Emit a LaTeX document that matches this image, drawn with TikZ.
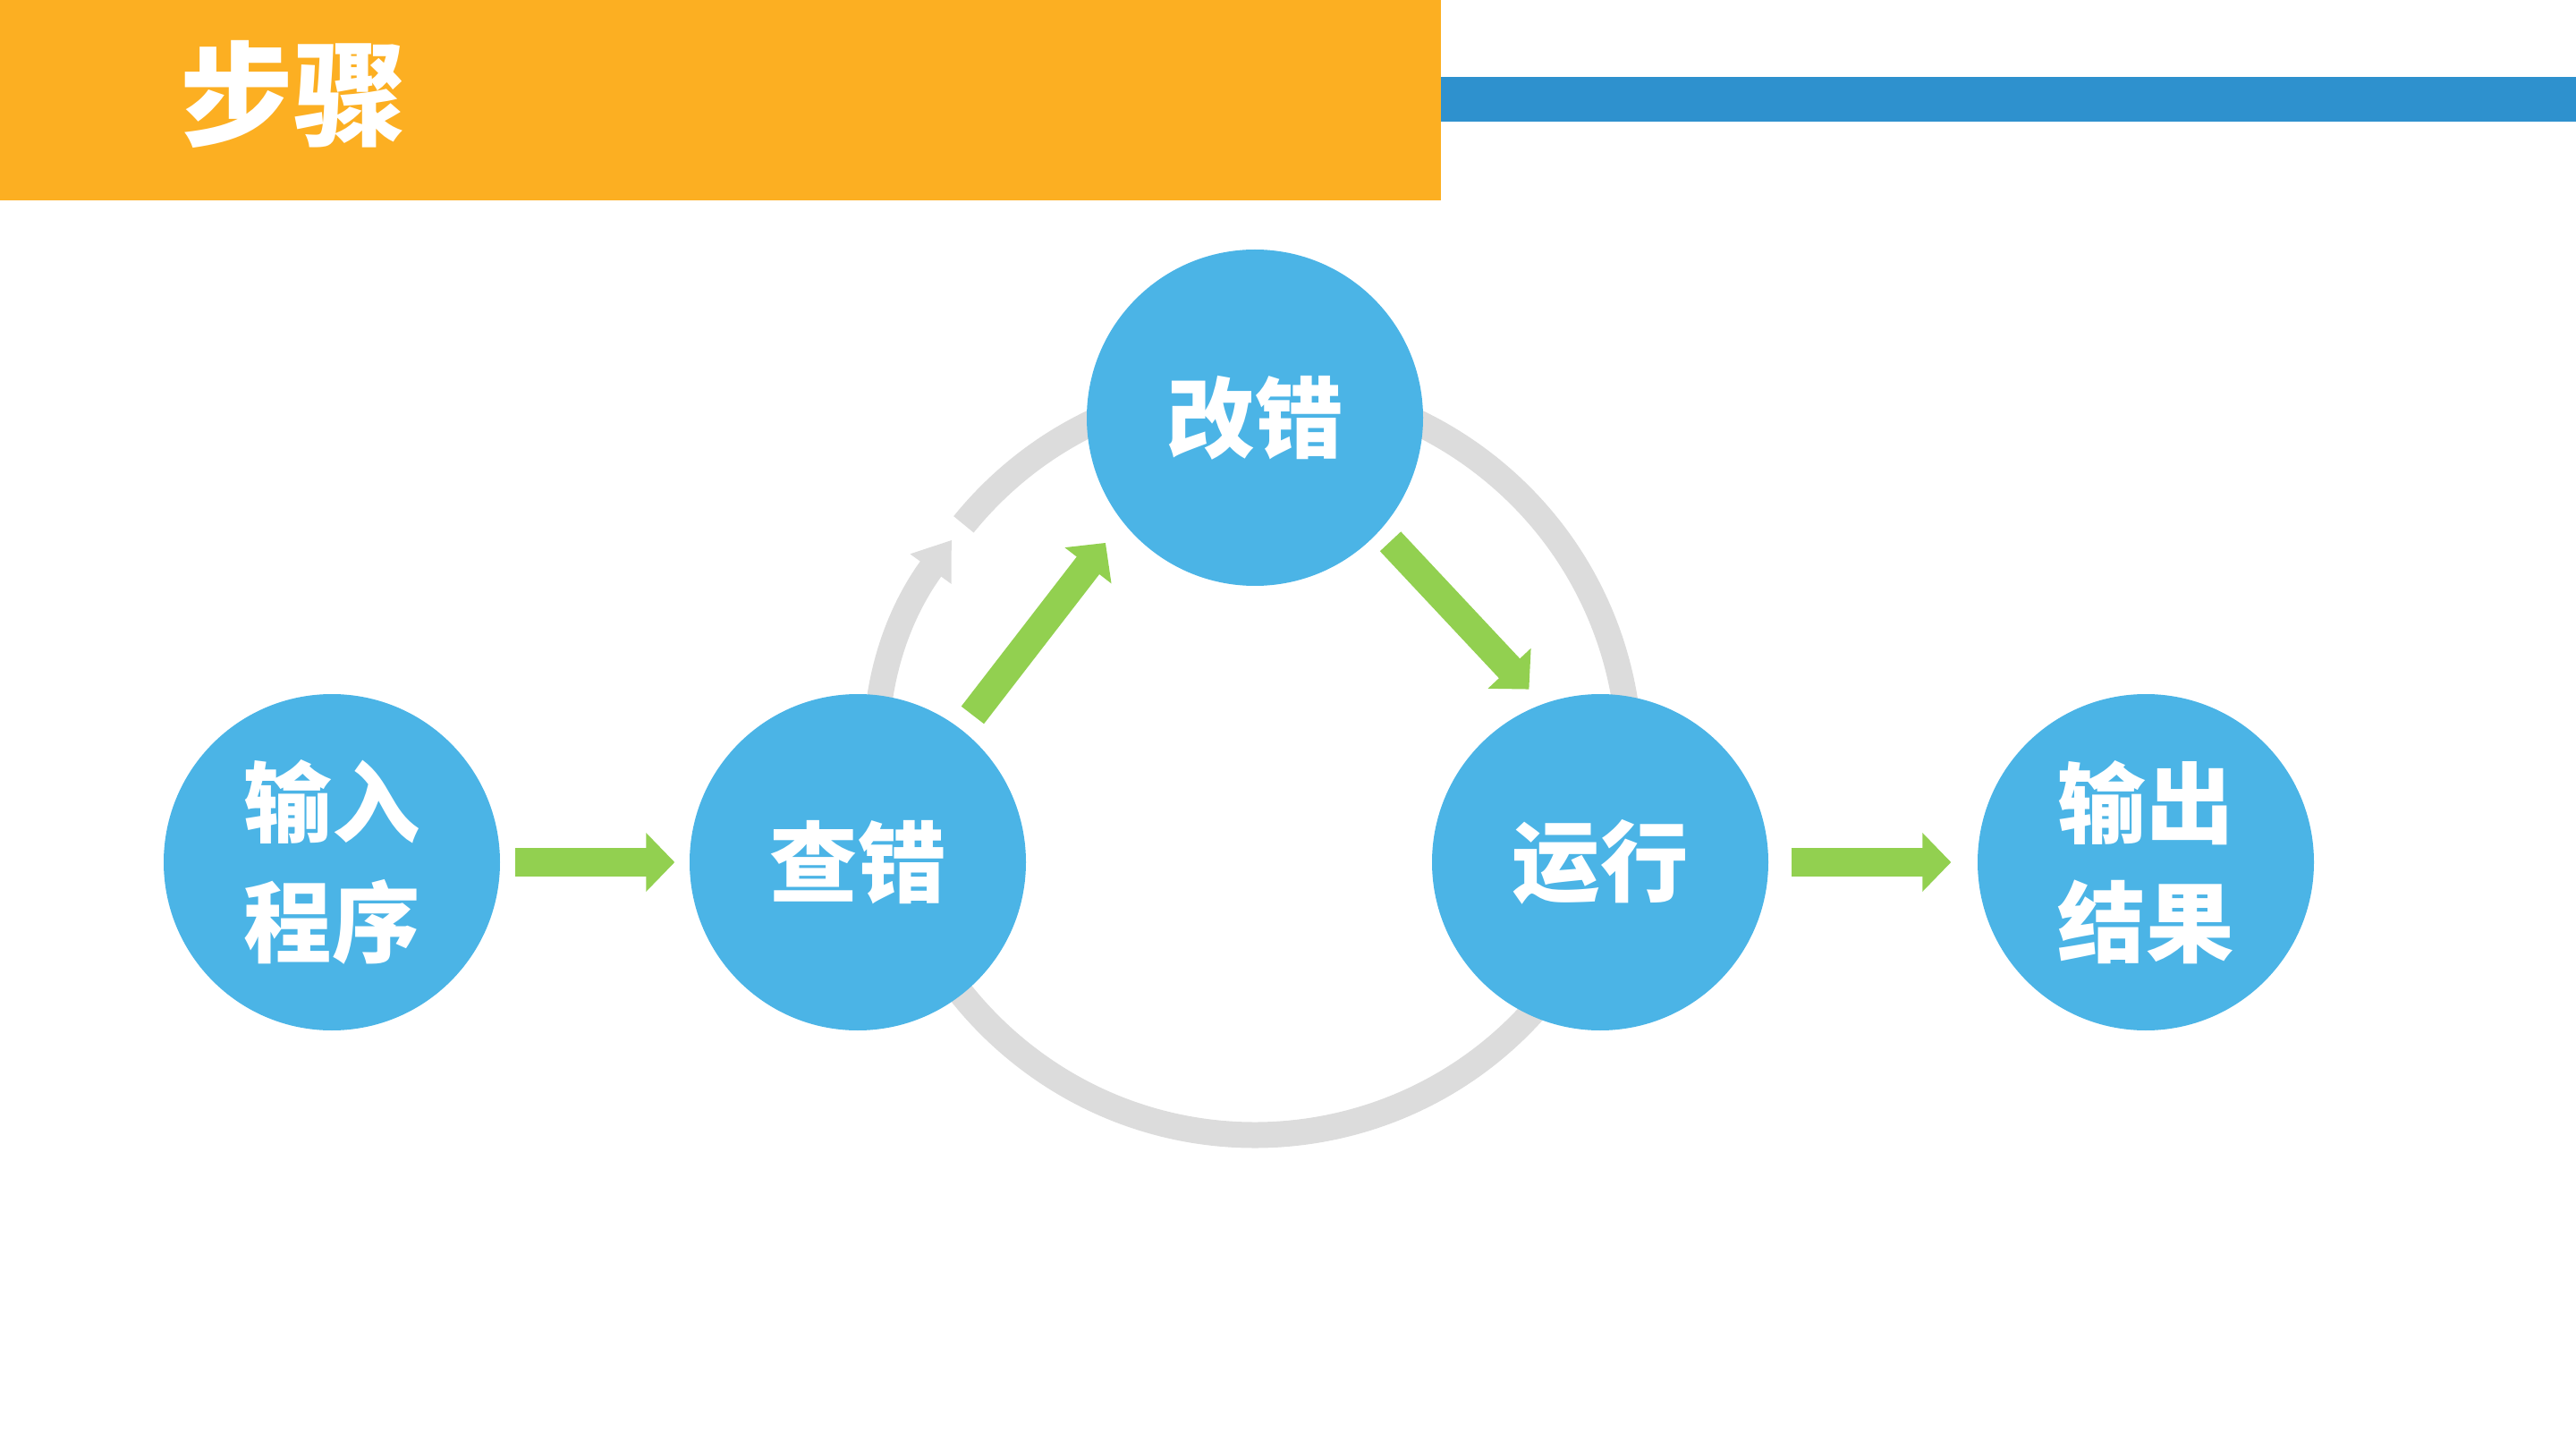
\documentclass[tikz,border=0pt]{standalone}
\usepackage{fontspec}
\newfontfamily\cjk{Noto Sans CJK SC}
\usetikzlibrary{calc,arrows.meta,positioning}
\definecolor{barorange}{HTML}{FCAF22}
\definecolor{barblue}{HTML}{2E91CE}
\definecolor{circblue}{HTML}{4BB4E6}
\definecolor{arrowgreen}{HTML}{92D050}
\definecolor{ringgray}{HTML}{DCDCDC}

\begin{document}
\begin{tikzpicture}
        \tikzset{
            bubble/.style={
                    circle,
                    fill=circblue,
                    text=white,
                    inner sep=0pt,
                    minimum size=3.76cm,
                    align=center,
                    font=\cjk\bfseries\fontsize{28pt}{38pt}\selectfont
                },
            flow/.style={
                    draw=arrowgreen,
                    line width=3.2mm,
                    -{Triangle[length=3.2mm,width=6.4mm]}
                },
            ring/.style={
                    draw=ringgray,
                    line width=2.9mm,
                    -{Triangle[length=4mm,width=5.4mm]}
                }
        }
        \useasboundingbox (0,0) rectangle (28.8,-16.2);
        % header bars
        \fill[barorange] (0,0) rectangle (16.11,-2.24);
        \fill[barblue] (16.11,-0.86) rectangle (28.8,-1.36);
        \node[text=white, font=\cjk\bfseries\fontsize{36pt}{40pt}\selectfont] (title) at (3.28,-1.05) {步骤};
        % the loop behind the circles
        \path (14.03,-8.50) coordinate (ringc);
        \draw[ring] ($(ringc)+(141:4.19)$) arc[start angle=141, end angle=-216, radius=4.19];
        \node[bubble] (input) at (3.71,-9.64) {输入\\程序};
        \node[bubble] (check) at (9.59,-9.64) {查错};
        \node[bubble] (fix) at (14.03,-4.67) {改错};
        \node[bubble] (run) at (17.89,-9.64) {运行};
        \node[bubble] (output) at (23.99,-9.64) {输出\\结果};
        \draw[flow, shorten <=1.6mm, shorten >=1.6mm] (input) -- (check);
        \draw[flow, shorten <=2mm, shorten >=3mm] (check.52.6) -- (fix.218.5);
        \draw[flow, shorten <=1.65mm, shorten >=2.2mm] (fix.-42.8) -- (run.110.6);
        \draw[flow, shorten <=2.5mm, shorten >=2.9mm] (run) -- (output);
    \end{tikzpicture}
\end{document}
